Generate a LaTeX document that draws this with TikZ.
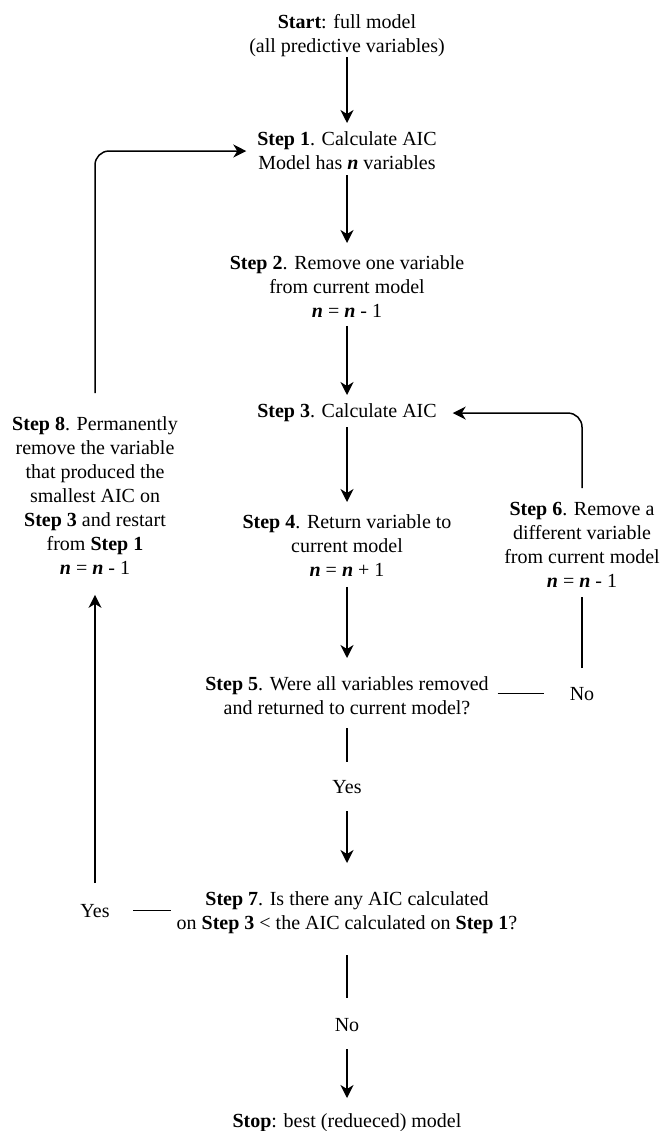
\documentclass[tikz,border=0pt]{standalone}
\usepackage{fontspec}
\setmainfont{Liberation Serif}
\usetikzlibrary{arrows.meta}
\tikzstyle{steptext}=[align=center, inner sep=0pt, outer sep=0pt, anchor=north, font=\fontsize{20}{24}\selectfont]
\tikzstyle{plain}=[line width=1.5pt]
\tikzstyle{flow}=[line width=1.5pt, -{Stealth[length=13pt,width=13pt,inset=4pt]}]
\newcommand{\nn}{\textbf{\textit{n}}}
\begin{document}
\begin{tikzpicture}[x=1pt,y=-1pt]
	\useasboundingbox (0,0) rectangle (661,1131);
	% middle column
	\node[steptext] (start) at (347,14) {\textbf{Start}: full model\\(all predictive variables)};
	\node[steptext] (step1) at (347,132) {\textbf{Step 1}. Calculate AIC\\Model has \nn{} variables};
	\node[steptext] (step2) at (347,256) {\textbf{Step 2}. Remove one variable\\from current model\\\nn{} = \nn{} - 1};
	\node[steptext] (step3) at (347,404) {\textbf{Step 3}. Calculate AIC};
	\node[steptext] (step4) at (347,515) {\textbf{Step 4}. Return variable to\\current model\\\nn{} = \nn{} + 1};
	\node[steptext] (step5) at (347,677) {\textbf{Step 5}. Were all variables removed\\and returned to current model?};
	\node[steptext] (yes1) at (347,780) {Yes};
	\node[steptext] (step7) at (347,892) {\textbf{Step 7}. Is there any AIC calculated\\on \textbf{Step 3} < the AIC calculated on \textbf{Step 1}?};
	\node[steptext] (no2) at (347,1018) {No};
	\node[steptext] (stop) at (347,1114) {\textbf{Stop}: best (redueced) model};
	% side columns
	\node[steptext] (step8) at (95,417) {\textbf{Step 8}. Permanently\\remove the variable\\that produced the\\smallest AIC on\\\textbf{Step 3} and restart\\from \textbf{Step 1}\\\nn{} = \nn{} - 1};
	\node[steptext] (yes2) at (95,904) {Yes};
	\node[steptext] (step6) at (582,502) {\textbf{Step 6}. Remove a\\different variable\\from current model\\\nn{} = \nn{} - 1};
	\node[steptext] (no1) at (582,687) {No};
	% connectors
	\draw[flow, shorten <=1pt, shorten >=9pt] (start) -- (step1);
	\draw[flow, shorten <=5pt, shorten >=13pt] (step1) -- (step2);
	\draw[flow, shorten <=8pt, shorten >=9pt] (step2) -- (step3);
	\draw[flow, shorten <=5pt, shorten >=13pt] (step3) -- (step4);
	\draw[flow, shorten <=10pt, shorten >=19pt] (step4) -- (step5);
	\draw[plain, shorten <=13pt, shorten >=18pt] (step5) -- (yes1);
	\draw[flow, shorten <=18pt, shorten >=29pt] (yes1) -- (step7);
	\draw[plain, shorten <=21pt, shorten >=20pt] (step7) -- (no2);
	\draw[flow, shorten <=18pt, shorten >=16pt] (no2) -- (stop);
	\draw[plain, shorten <=9pt, shorten >=26pt] (step5.east |- no1) -- (no1);
	\draw[plain, shorten <=19pt, shorten >=10pt] (no1) -- (step6);
	\draw[flow, rounded corners=14pt, shorten <=14pt, shorten >=16pt] (step6.north) |- (step3.east);
	\draw[plain, shorten <=6pt, shorten >=23pt] (step7.west |- yes2) -- (yes2);
	\draw[flow, shorten <=21pt, shorten >=20pt] (yes2) -- (step8);
	\draw[flow, rounded corners=14pt, shorten <=24pt, shorten >=11pt] (step8.north) |- (step1.west);
\end{tikzpicture}
\end{document}
